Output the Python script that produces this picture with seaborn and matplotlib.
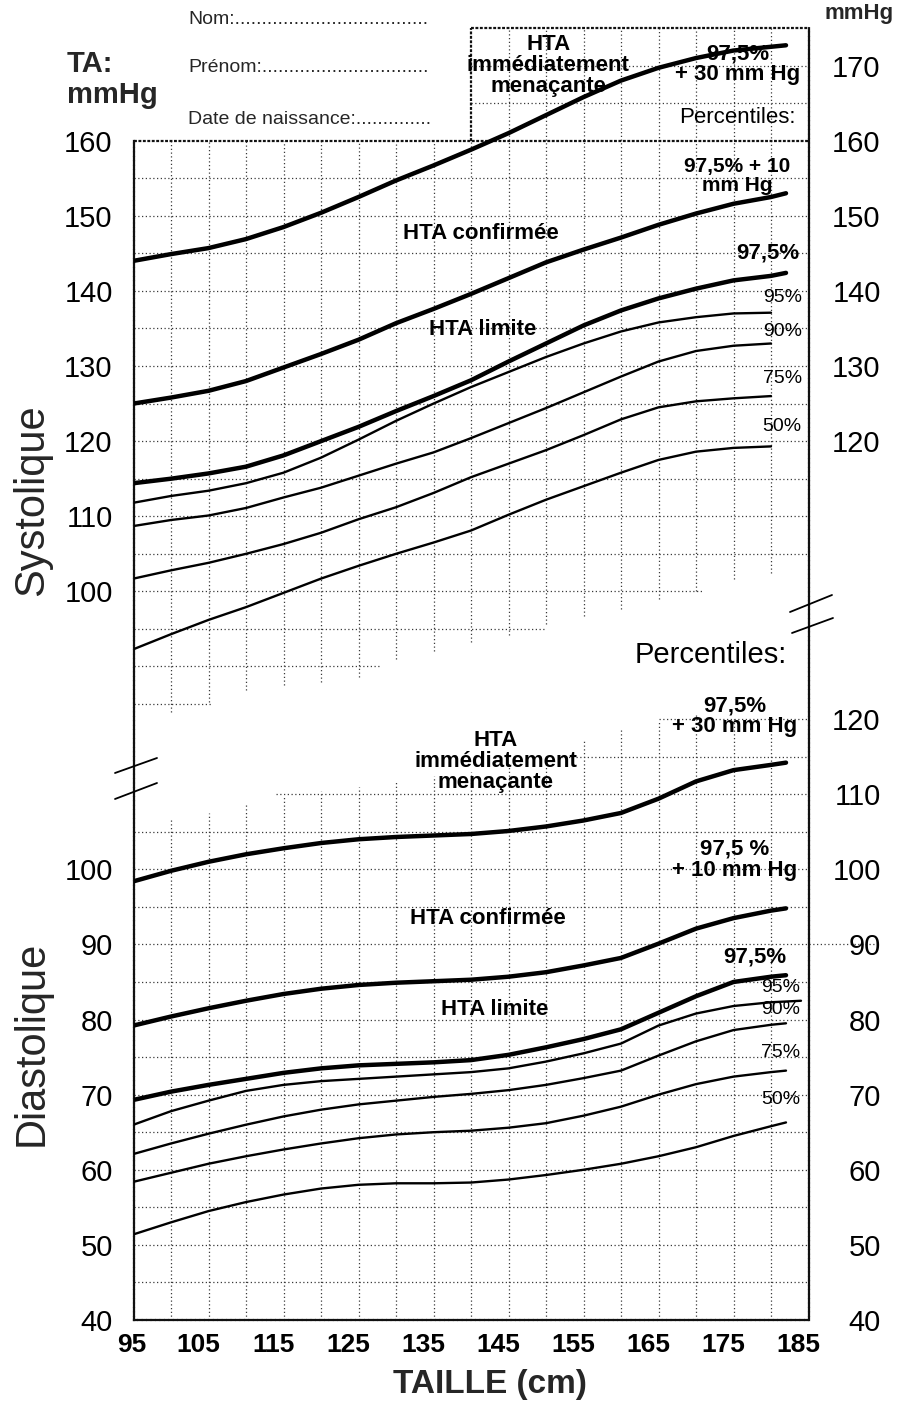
import numpy as np
import pandas as pd
import matplotlib
matplotlib.use("Agg")
import matplotlib.pyplot as plt
from matplotlib.lines import Line2D
from matplotlib.transforms import ScaledTranslation
import seaborn as sns

# ---------------- data ----------------
nan = np.nan
taille = [95, 100, 105, 110, 115, 120, 125, 130, 135, 140, 145, 150, 155, 160, 165, 170, 175, 180, 182, 184]

# Systolic (mmHg)
sys_975_p30 = [144.0, 144.9, 145.7, 146.9, 148.5, 150.4, 152.5, 154.7, 156.7, 158.8, 161.0, 163.4, 165.8, 168.0, 169.7, 171.0, 172.0, 172.5, 172.7, nan]
sys_975_p10 = [125.0, 125.8, 126.7, 128.0, 129.8, 131.6, 133.5, 135.7, 137.6, 139.6, 141.7, 143.8, 145.5, 147.1, 148.8, 150.3, 151.6, 152.5, 153.0, nan]
sys_975 = [114.4, 115.0, 115.7, 116.6, 118.1, 120.0, 121.9, 124.0, 126.0, 128.1, 130.6, 133.0, 135.4, 137.4, 139.0, 140.3, 141.4, 142.0, 142.4, nan]
sys_95 = [111.8, 112.7, 113.4, 114.4, 115.8, 117.8, 120.2, 122.7, 125.0, 127.2, 129.2, 131.2, 133.0, 134.6, 135.8, 136.5, 137.0, 137.1, nan, nan]
sys_90 = [108.7, 109.5, 110.1, 111.1, 112.5, 113.8, 115.4, 117.0, 118.5, 120.4, 122.4, 124.4, 126.5, 128.6, 130.6, 132.0, 132.7, 133.0, nan, nan]
sys_75 = [101.7, 102.8, 103.8, 105.0, 106.3, 107.8, 109.6, 111.2, 113.1, 115.2, 117.0, 118.8, 120.8, 122.9, 124.5, 125.3, 125.7, 126.0, nan, nan]
sys_50 = [92.3, 94.3, 96.2, 97.9, 99.8, 101.7, 103.4, 105.0, 106.5, 108.1, 110.2, 112.2, 114.0, 115.8, 117.5, 118.6, 119.1, 119.3, nan, nan]

# Diastolic (mmHg)
dia_975_p30 = [98.4, 99.8, 101.0, 102.0, 102.8, 103.5, 104.0, 104.3, 104.5, 104.7, 105.1, 105.7, 106.5, 107.5, 109.4, 111.7, 113.2, 113.9, 114.2, nan]
dia_975_p10 = [79.2, 80.4, 81.5, 82.5, 83.4, 84.1, 84.6, 84.9, 85.1, 85.3, 85.7, 86.3, 87.2, 88.2, 90.1, 92.1, 93.5, 94.5, 94.8, nan]
dia_975 = [69.3, 70.4, 71.3, 72.1, 72.9, 73.5, 73.9, 74.1, 74.3, 74.6, 75.3, 76.3, 77.4, 78.7, 80.9, 83.1, 85.0, 85.7, 85.9, nan]
dia_95 = [66.0, 67.8, 69.2, 70.5, 71.3, 71.8, 72.1, 72.4, 72.7, 73.0, 73.5, 74.4, 75.5, 76.8, 79.2, 80.8, 81.8, 82.3, 82.4, 82.5]
dia_90 = [62.1, 63.5, 64.8, 66.0, 67.1, 68.0, 68.7, 69.2, 69.7, 70.1, 70.6, 71.3, 72.2, 73.2, 75.2, 77.1, 78.6, 79.3, 79.5, nan]
dia_75 = [58.4, 59.6, 60.8, 61.8, 62.7, 63.5, 64.2, 64.7, 65.0, 65.2, 65.6, 66.2, 67.2, 68.4, 70.0, 71.4, 72.4, 73.0, 73.2, nan]
dia_50 = [51.4, 53.0, 54.5, 55.7, 56.7, 57.5, 58.0, 58.2, 58.2, 58.3, 58.7, 59.3, 60.0, 60.8, 61.8, 63.0, 64.5, 65.8, 66.3, nan]

x_ticks = [95, 105, 115, 125, 135, 145, 155, 165, 175, 185]
sys_left_ticks = [100, 110, 120, 130, 140, 150, 160]
dia_left_ticks = [40, 50, 60, 70, 80, 90, 100]
sys_right_ticks = [120, 130, 140, 150, 160, 170]
dia_right_ticks = [40, 50, 60, 70, 80, 90, 100, 110, 120]

# ---------------- layout ----------------
W, H = 897, 1401
SYS_OFF = 37          # systolic panel sits above the diastolic one on a shared axis
YMIN, YMAX = 40, 212
X0, X1, Y0, Y1 = 133.5, 808.5, 1320, 28

sns.set_theme(style="white")
plt.rcParams['font.family'] = ['Liberation Sans', 'DejaVu Sans']

fig = plt.figure(figsize=(W / 100, H / 100), dpi=100)
ax = fig.add_axes([X0 / W, 1 - Y0 / H, (X1 - X0) / W, (Y0 - Y1) / H])
ax.set_xlim(95, 185)
ax.set_ylim(YMIN, YMAX)

# ---------------- grid (ragged, as on the paper chart) ----------------
grid_kw = dict(color='#3a3a3a', linewidth=0.9, linestyle=(0, (1, 2.0)), zorder=1)
grid_x = [100, 105, 110, 115, 120, 125, 130, 135, 140, 145, 150, 155, 160, 165, 170, 175, 180]
sys_grid_bottom = [84, 85.3, 86.9, 87.6, 88, 88.6, 91, 92, 93.2, 94.2, 95.6, 96.7, 97.7, 99, 100, 101.6, 102.4]
dia_grid_top = [106.7, 107.5, 108.7, 109.7, 110.4, 111, 111.7, 112.4, 113, 114.3, 115.3, 117.2, 118.5, 119.6, 120.5, 120.3, 119.6]
for gx, sb, dt in zip(grid_x, sys_grid_bottom, dia_grid_top):
    top = 175 if gx > 140 else 160
    ax.vlines(gx, sb + SYS_OFF, top + SYS_OFF, **grid_kw)
    ax.vlines(gx, YMIN, dt, **grid_kw)

sys_row_end = {85: 105.3, 90: 128, 95: 150, 100: 171}
for s in range(85, 175, 5):
    if s == 160:
        continue
    xs = 140 if s > 160 else 95
    ax.hlines(s + SYS_OFF, xs, sys_row_end.get(s, 185), **grid_kw)

dia_row_start = {110: 114, 115: 152, 120: 165}
for d in range(45, 125, 5):
    xe = 194.5 if d == 90 else 185
    ax.hlines(d, dia_row_start.get(d, 95), xe, clip_on=False, **grid_kw)

# frame
border_kw = dict(color='#111111', linewidth=1.6, linestyle=(0, (1.3, 0.7)))
for side in ['left', 'right', 'bottom']:
    ax.spines[side].set_visible(True)
    ax.spines[side].set_color('#111111')
    ax.spines[side].set_linewidth(1.6)
    ax.spines[side].set_linestyle((0, (1.3, 0.7)))
ax.spines['top'].set_visible(False)
ax.spines['left'].set_bounds(YMIN, 160 + SYS_OFF)
ax.plot([95, 185], [160 + SYS_OFF] * 2, clip_on=False, zorder=2, **border_kw)
ax.plot([140, 185], [175 + SYS_OFF] * 2, clip_on=False, zorder=2, **border_kw)
ax.plot([140, 140], [160 + SYS_OFF, 175 + SYS_OFF], clip_on=False, zorder=2, **border_kw)

# ---------------- curves ----------------
curves = [
    ('sys 97,5%+30', sys_975_p30, SYS_OFF, 'epais'),
    ('sys 97,5%+10', sys_975_p10, SYS_OFF, 'epais'),
    ('sys 97,5%', sys_975, SYS_OFF, 'epais'),
    ('sys 95%', sys_95, SYS_OFF, 'fin'),
    ('sys 90%', sys_90, SYS_OFF, 'fin'),
    ('sys 75%', sys_75, SYS_OFF, 'fin'),
    ('sys 50%', sys_50, SYS_OFF, 'fin'),
    ('dia 97,5%+30', dia_975_p30, 0, 'epais'),
    ('dia 97,5%+10', dia_975_p10, 0, 'epais'),
    ('dia 97,5%', dia_975, 0, 'epais'),
    ('dia 95%', dia_95, 0, 'fin'),
    ('dia 90%', dia_90, 0, 'fin'),
    ('dia 75%', dia_75, 0, 'fin'),
    ('dia 50%', dia_50, 0, 'fin'),
]
frames = []
for name, vals, off, w in curves:
    frames.append(pd.DataFrame({'courbe': name, 'taille': taille,
                                'pos': np.array(vals, dtype=float) + off, 'trait': w}))
df = pd.concat(frames, ignore_index=True).dropna()
sns.lineplot(data=df, x='taille', y='pos', units='courbe', estimator=None,
             size='trait', sizes={'epais': 3.2, 'fin': 1.7}, color='black',
             legend=False, ax=ax, zorder=3)

# ---------------- ticks ----------------
ax.set_xticks(x_ticks, [str(v) for v in x_ticks], fontweight='bold', fontsize=19)
ax.set_yticks([v + SYS_OFF for v in sys_left_ticks] + dia_left_ticks,
              [str(v) for v in sys_left_ticks] + [str(v) for v in dia_left_ticks], fontsize=21)
ax.tick_params(axis='x', length=0, pad=9, colors='black')
ax.tick_params(axis='y', length=0, pad=15, colors='black')
ax.set_xlabel('')
ax.set_ylabel('')
# printed x labels sit slightly left of their grid lines on the paper chart
for i, lbl in enumerate(ax.get_xticklabels()):
    shift = -2 if i == 0 else -10
    lbl.set_transform(lbl.get_transform() + ScaledTranslation(shift / 100, 0, fig.dpi_scale_trans))

ax2 = ax.twinx()
ax2.set_ylim(YMIN, YMAX)
for sp in ax2.spines.values():
    sp.set_visible(False)
ax2.set_yticks([v + SYS_OFF for v in sys_right_ticks] + dia_right_ticks,
               [str(v) for v in sys_right_ticks] + [str(v) for v in dia_right_ticks],
               fontsize=21, ha='right')
ax2.tick_params(axis='y', length=0, pad=52, colors='black')
ax2.grid(False)

# ---------------- annotations ----------------
bold = dict(fontweight='bold', color='black', ha='center', va='center', zorder=4)
reg = dict(color='black', ha='center', va='center', zorder=4)

# systolic panel
ax.text(150.3, 170.0 + SYS_OFF, 'HTA\nimmédiatement\nmenaçante', fontsize=16, linespacing=1.02, **bold)
ax.text(175.6, 170.2 + SYS_OFF, '97,5%\n+ 30 mm Hg', fontsize=16, linespacing=1.0, **bold)
ax.text(175.5, 163.1 + SYS_OFF, 'Percentiles:', fontsize=16, **reg)
ax.text(175.5, 155.3 + SYS_OFF, '97,5% + 10\nmm Hg', fontsize=15, linespacing=1.05, **bold)
ax.text(141.3, 147.7 + SYS_OFF, 'HTA confirmée', fontsize=16, **bold)
ax.text(141.6, 134.8 + SYS_OFF, 'HTA limite', fontsize=16, **bold)
ax.text(179.6, 145.1 + SYS_OFF, '97,5%', fontsize=16, **bold)
ax.text(181.5, 139.1 + SYS_OFF, '95%', fontsize=14, **reg)
ax.text(181.5, 134.6 + SYS_OFF, '90%', fontsize=14, **reg)
ax.text(181.5, 128.4 + SYS_OFF, '75%', fontsize=14, **reg)
ax.text(181.5, 121.9 + SYS_OFF, '50%', fontsize=14, **reg)

# diastolic panel
ax.text(172.0, 128.5, 'Percentiles:', fontsize=21, **reg)
ax.text(175.2, 120.4, '97,5%\n+ 30 mm Hg', fontsize=16, linespacing=1.0, **bold)
ax.text(143.3, 114.4, 'HTA\nimmédiatement\nmenaçante', fontsize=16, linespacing=1.0, **bold)
ax.text(175.1, 101.3, '97,5 %\n+ 10 mm Hg', fontsize=16, linespacing=1.0, **bold)
ax.text(142.3, 93.5, 'HTA confirmée', fontsize=16, **bold)
ax.text(177.9, 88.3, '97,5%', fontsize=16, **bold)
ax.text(181.3, 84.3, '95%', fontsize=14, **reg)
ax.text(181.3, 81.3, '90%', fontsize=14, **reg)
ax.text(181.3, 75.6, '75%', fontsize=14, **reg)
ax.text(181.3, 69.3, '50%', fontsize=14, **reg)
ax.text(143.2, 81.3, 'HTA limite', fontsize=16, **bold)


def ftext(px, py, s, **kw):
    fig.text(px / W, 1 - py / H, s, **kw)


ftext(67, 64, 'TA:', fontsize=21, fontweight='bold', ha='left', va='center')
ftext(67, 95, 'mmHg', fontsize=21, fontweight='bold', ha='left', va='center')
ftext(188, 20, 'Nom:' + '.' * 36, fontsize=14, ha='left', va='center')
ftext(188, 68, 'Prénom:' + '.' * 31, fontsize=14, ha='left', va='center')
ftext(188, 119, 'Date de naissance:' + '.' * 14, fontsize=14, ha='left', va='center')
ftext(859, 13, 'mmHg', fontsize=16, fontweight='bold', ha='center', va='center')
ftext(32, 500, 'Systolique', fontsize=30, rotation=90, ha='center', va='center')
ftext(32, 1043, 'Diastolique', fontsize=30, rotation=90, ha='center', va='center')
ftext(490, 1385, 'TAILLE (cm)', fontsize=24, fontweight='bold', ha='center', va='center')

# axis break marks
for (xa, ya, xb, yb) in [(115, 773, 157, 758), (115, 799, 157, 783),
                         (790, 612, 832, 595), (792, 633, 833, 618)]:
    fig.add_artist(Line2D([xa / W, xb / W], [1 - ya / H, 1 - yb / H], color='black', lw=1.3))

fig.savefig('out.png', dpi=100, facecolor='white')
